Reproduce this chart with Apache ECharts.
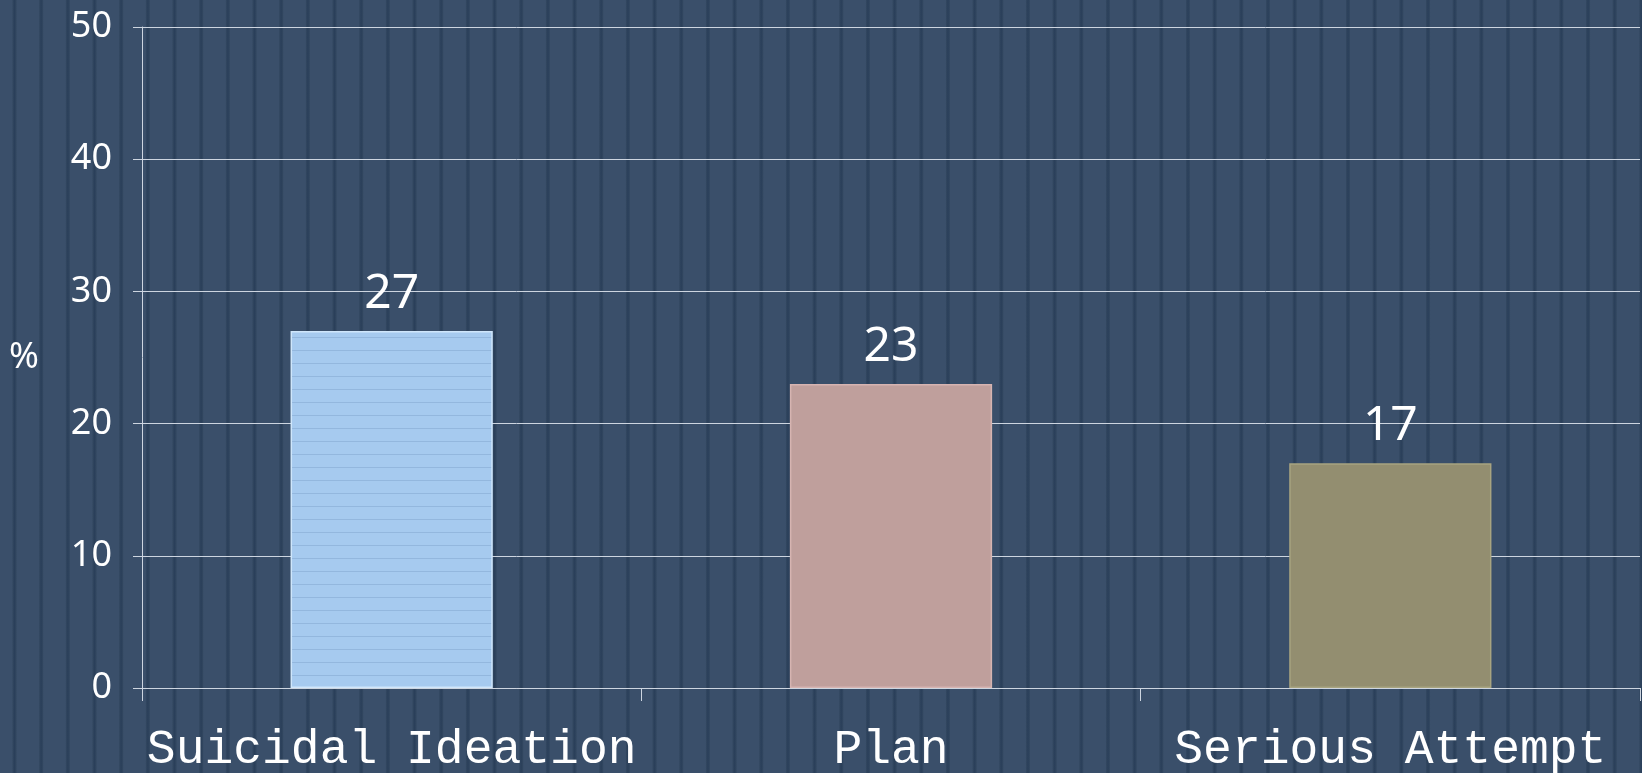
<!DOCTYPE html>
<html>
<head>
<meta charset="utf-8">
<script src="https://cdn.jsdelivr.net/npm/echarts@6/dist/echarts.min.js"></script>
<style>
  html, body { margin: 0; padding: 0; }
  body {
    width: 1642px; height: 773px; overflow: hidden;
    background-color: #3a4f6a;
    background-image: repeating-linear-gradient(90deg,
      #3a4f6a 0px, #3a4f6a 12px, #31465f 13px, #2a3f5a 14.5px, #31465f 16px, #3a4f6a 17px, #3a4f6a 26.67px);
  }
  #chart { width: 1642px; height: 773px; }
</style>
</head>
<body>
<div id="chart"></div>
<script>
const categories = ['Suicidal Ideation', 'Plan', 'Serious Attempt']
const values = [27, 23, 17]
const yTicks = { min: 0, max: 50, interval: 10 }

// horizontal line texture for the first bar
const stripe = document.createElement('canvas')
stripe.width = 4
stripe.height = 13
const sctx = stripe.getContext('2d')
sctx.fillStyle = '#a6caef'
sctx.fillRect(0, 0, 4, 13)
sctx.fillStyle = '#93b7de'
sctx.fillRect(0, 12, 4, 1)

const barStyles = [
  { color: { image: stripe, repeat: 'repeat' }, borderColor: '#cfe6fb' },
  { color: '#bf9f9c', borderColor: '#d6b4b1' },
  { color: '#938e70', borderColor: '#a8a480' },
]

const chart = echarts.init(document.getElementById('chart'))
chart.setOption({
  backgroundColor: 'transparent',
  animation: false,
  grid: { left: 142, right: 2, top: 27, bottom: 85, containLabel: false, outerBoundsMode: 'none' },
  xAxis: {
    type: 'category',
    data: categories,
    axisLine: { lineStyle: { color: '#cdd5e0', width: 1 } },
    axisTick: { show: true, length: 13, lineStyle: { color: '#cdd5e0' } },
    axisLabel: {
      interval: 0,
      color: '#ffffff',
      fontFamily: 'Liberation Mono',
      fontSize: 48,
      margin: 38,
    },
  },
  yAxis: {
    type: 'value',
    min: yTicks.min,
    max: yTicks.max,
    interval: yTicks.interval,
    name: '%',
    nameLocation: 'middle',
    nameRotate: 0,
    nameGap: 103,
    nameTextStyle: { color: '#ffffff', fontFamily: 'Noto Sans', fontSize: 36 },
    axisLine: { show: true, lineStyle: { color: '#cdd5e0', width: 1 } },
    axisTick: { show: true, length: 9, lineStyle: { color: '#cdd5e0' } },
    axisLabel: {
      color: '#ffffff',
      fontFamily: 'Noto Sans',
      fontSize: 36,
      margin: 30,
    },
    splitLine: { lineStyle: { color: '#cdd5e0', width: 1 } },
  },
  series: [{
    type: 'bar',
    barWidth: '40.5%',
    data: values.map((v, i) => ({
      value: v,
      itemStyle: { color: barStyles[i].color, borderColor: barStyles[i].borderColor, borderWidth: 1.5 },
    })),
    label: {
      show: true,
      position: 'top',
      distance: 13,
      color: '#ffffff',
      fontFamily: 'Noto Sans',
      fontSize: 48,
    },
  }],
})
</script>
</body>
</html>
